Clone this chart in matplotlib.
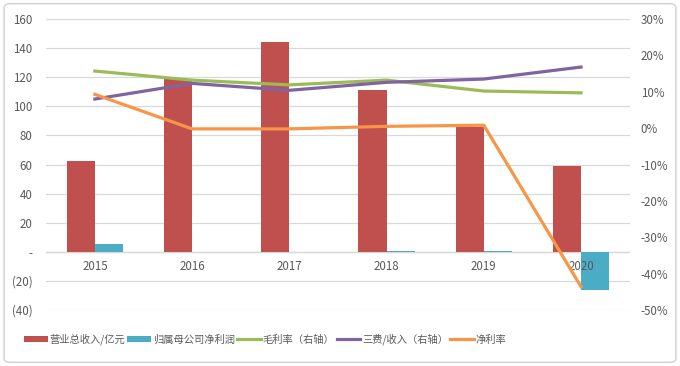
import numpy as np
import matplotlib
matplotlib.use("Agg")
import matplotlib.pyplot as plt
from matplotlib.patches import FancyBboxPatch
from matplotlib.ticker import FuncFormatter

plt.rcParams['font.family'] = ['Noto Sans CJK SC', 'DejaVu Sans']

# === DATA ===
years = ["2015", "2016", "2017", "2018", "2019", "2020"]
revenue = [62.6, 119, 144, 111, 86, 59]          # 营业总收入/亿元
net_profit = [5.5, 0.0, 0.0, 0.5, 0.5, -26]       # 归属母公司净利润
gross_margin = [15.7, 13.2, 11.9, 13.2, 10.2, 9.7]   # 毛利率 (%)
expense_ratio = [8.0, 12.3, 10.4, 12.6, 13.5, 16.8]  # 三费/收入 (%)
net_margin = [9.3, -0.2, -0.2, 0.5, 0.8, -43.6]      # 净利率 (%)

# === STYLE ===
RED, BLUE, GREEN, PURPLE, ORANGE = "#C0504D", "#4BACC6", "#9BBB59", "#8064A2", "#F79646"
TXT = "#595959"
GRID = "#D9D9D9"
FS = 8.3

fig = plt.figure(figsize=(6.8, 3.66), dpi=100)
fig.patches.append(FancyBboxPatch((0.006, 0.01), 0.988, 0.98, boxstyle="round,pad=0,rounding_size=0.01",
                                  transform=fig.transFigure, fc="none", ec="#D0D0D0", lw=1.0, zorder=-1))
ax = fig.add_axes([0.068, 0.153, 0.858, 0.795])
ax2 = ax.twinx()

x = np.arange(len(years))
w = 0.29
ax.bar(x - w / 2, revenue, w, color=RED, label="营业总收入/亿元", zorder=3)
ax.bar(x + w / 2, net_profit, w, color=BLUE, label="归属母公司净利润", zorder=3)

ax.set_xlim(-0.5, len(years) - 0.5)
ax.set_ylim(-40, 160)
ax.set_yticks(np.arange(-40, 161, 20))
ax.yaxis.set_major_formatter(FuncFormatter(
    lambda v, p: "-" if v == 0 else (f"({abs(int(v))})" if v < 0 else f"{int(v)}")))
ax.grid(axis="y", color=GRID, lw=0.9, zorder=0)
ax.set_xticks([])
ax.tick_params(axis="y", length=0, colors=TXT, labelsize=FS, pad=10)
for s in ax.spines.values():
    s.set_visible(False)
ax.axhline(0, color=GRID, lw=1.0, zorder=1)
for xi, yl in zip(x, years):
    ax.text(xi, -10.3, yl, ha="center", va="center", color=TXT, fontsize=FS, zorder=3.5)

ax2.plot(x, gross_margin, color=GREEN, lw=2.3, label="毛利率（右轴）", zorder=4)
ax2.plot(x, expense_ratio, color=PURPLE, lw=2.3, label="三费/收入（右轴）", zorder=4)
ax2.plot(x, net_margin, color=ORANGE, lw=2.3, label="净利率", zorder=4)
ax2.set_ylim(-50, 30)
ax2.set_yticks(np.arange(-50, 31, 10))
ax2.yaxis.set_major_formatter(FuncFormatter(lambda v, p: f"{int(v)}%"))
ax2.tick_params(axis="y", length=0, colors=TXT, labelsize=FS, pad=8)
for s in ax2.spines.values():
    s.set_visible(False)

h1, l1 = ax.get_legend_handles_labels()
h2, l2 = ax2.get_legend_handles_labels()
fig.legend(h1 + h2, l1 + l2, loc="center", bbox_to_anchor=(0.39, 0.073), ncol=5, frameon=False,
           fontsize=7.4, labelcolor=TXT, handlelength=2.3, handleheight=0.5, handletextpad=0.15,
           columnspacing=0.25)

fig.savefig("out.png", dpi=100)
